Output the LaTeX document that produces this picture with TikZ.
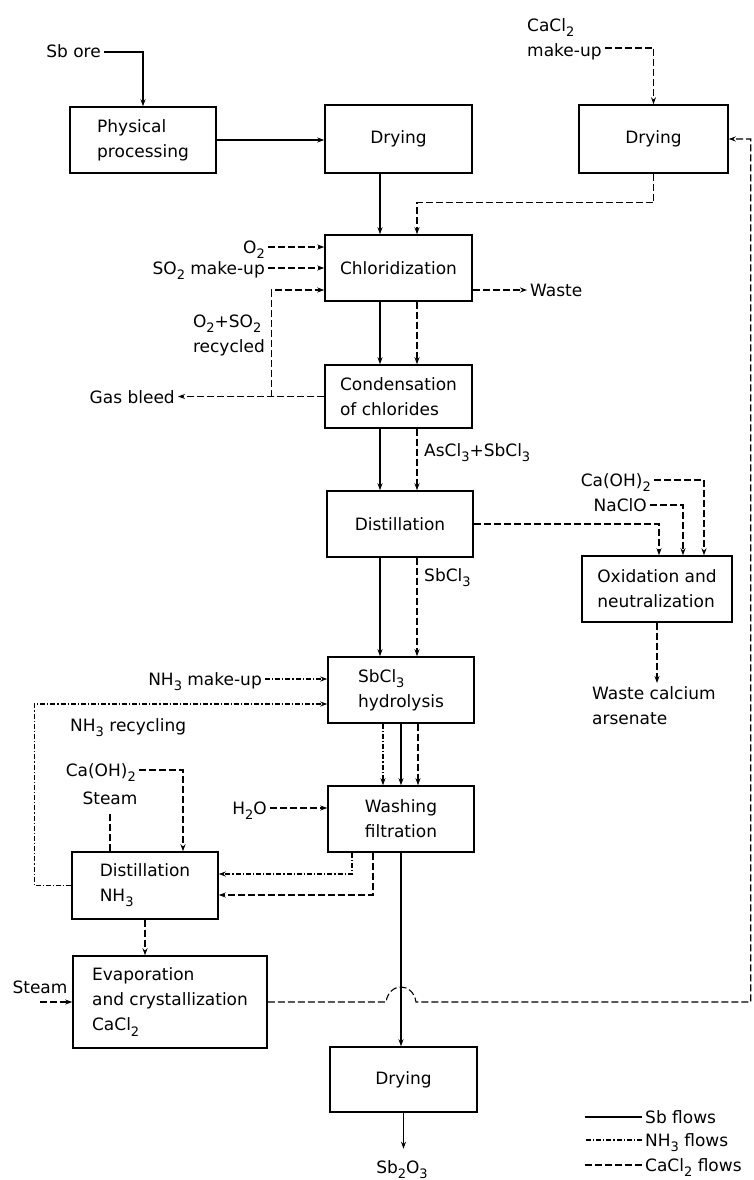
\documentclass[tikz,border=0pt]{standalone}
\usepackage{fontspec}
\setmainfont{DejaVu Sans}
\usetikzlibrary{arrows.meta,calc}
\newcommand\sbx[1]{\raisebox{-0.3em}{\fontsize{13}{13}\selectfont #1}}
\begin{document}
\begin{tikzpicture}[x=1pt,y=-1pt,
  font=\fontsize{17}{25}\selectfont,
  box/.style={draw,line width=1.5pt,minimum width=146pt,minimum height=66pt,align=left,inner sep=2pt},
  lbl/.style={inner sep=3pt},
  lbl1/.style={inner sep=3pt,text height=13pt,text depth=1pt},
  flow/.style={line width=1.1pt},
  sbf/.style={flow},
  nhf/.style={flow,dash pattern=on 5pt off 2pt on 1.2pt off 2pt},
  caf/.style={flow,dash pattern=on 7pt off 3pt},
  arr/.style={-{Stealth[length=7pt,width=5pt]}},
]
\useasboundingbox (0,0) rectangle (753,1180);

% boxes
\node[box] (pp) at (143,140) {Physical\\processing};
\node[box,minimum width=147pt,minimum height=68pt] (dry1) at (398.5,139) {Drying};
\node[box,minimum width=149pt,minimum height=68pt] (dry2) at (653.5,139) {Drying};
\node[box,minimum width=147pt] (chl) at (398.5,268) {Chloridization};
\node[box,minimum width=147pt,minimum height=63pt] (con) at (398.5,396.5) {Condensation\\of chlorides};
\node[box] (dis) at (400,524) {Distillation};
\node[box,minimum width=150pt] (oxi) at (657,589) {Oxidation and\\neutralization};
\node[box] (hyd) at (401,690) {SbCl\sbx{3}\\hydrolysis};
\node[box] (wash) at (401,819) {Washing\\filtration};
\node[box,minimum height=67pt] (dnh) at (145,885.5) {Distillation\\NH\sbx{3}};
\node[box,minimum width=194pt,minimum height=92pt] (eva) at (170,1002) {Evaporation\\and crystallization\\CaCl\sbx{2}};
\node[box,minimum width=147pt,minimum height=65pt] (dry3) at (403.5,1079.5) {Drying};

% column coordinates
\coordinate (cS) at (380,0);
\coordinate (cD) at (417,0);

% top
\node[lbl1,anchor=east] (sbore) at (104,52) {Sb ore};
\draw[sbf,arr] (sbore.east) -| (pp.north);
\draw[sbf,arr] (pp.east) -- (pp.east -| dry1.west);

\node[lbl,align=left,anchor=west] (cmk) at (524,39) {CaCl\sbx{2}\\make-up};
\coordinate (cmkend) at (605,48);
\draw[caf,arr] (cmkend) -| (dry2.north);

\draw[sbf,arr] (dry1.south -| cS) -- (chl.north -| cS);
\draw[caf,arr] (dry2.south) -- ++(0,29) -| (chl.north -| cD);

% chloridization inputs
\node[lbl1,anchor=east] (o2) at (268,247) {O\sbx{2}};
\node[lbl1,anchor=east] (so2) at (268,268) {SO\sbx{2} make-up};
\draw[caf,arr] (o2.east) -- (o2.east -| chl.west);
\draw[caf,arr] (so2.east) -- (so2.east -| chl.west);
\node[lbl1,anchor=west] (waste) at (527,290) {Waste};
\draw[caf,arr] (waste.west -| chl.east) -- (waste.west);

% recycle and gas bleed
\node[lbl1,anchor=east] (gas) at (178,397) {Gas bleed};
\draw[caf,arr] (con.west) -- (con.west -| gas.east);
\draw[caf,arr] ($(con.west)+(-53,0)$) |- ($(chl.west)+(0,22)$);
\node[lbl,align=left,anchor=east] (rec) at (268,335) {O\sbx{2}+SO\sbx{2}\\recycled};

\draw[sbf,arr] (chl.south -| cS) -- (con.north -| cS);
\draw[caf,arr] (chl.south -| cD) -- (con.north -| cD);
\draw[sbf,arr] (con.south -| cS) -- (dis.north -| cS);
\draw[caf,arr] (con.south -| cD) -- (dis.north -| cD);
\node[lbl1,anchor=west] (ascl) at (421,450) {AsCl\sbx{3}+SbCl\sbx{3}};

% oxidation branch
\draw[caf,arr] (dis.east) -| ($(oxi.north)+(2,0)$);
\node[lbl1,anchor=east] (caoh1) at (654,480) {Ca(OH)\sbx{2}};
\draw[caf,arr] (caoh1.east) -| ($(oxi.north)+(47,0)$);
\node[lbl1,anchor=east] (naclo) at (650,505) {NaClO};
\draw[caf,arr] (naclo.east) -| ($(oxi.north)+(26,0)$);
\node[lbl,align=left,anchor=north west] (wca) at (589,683) {Waste calcium\\arsenate};
\draw[caf,arr] (oxi.south) -- (oxi.south |- wca.north);

\draw[sbf,arr] (dis.south -| cS) -- (hyd.north -| cS);
\draw[caf,arr] (dis.south -| cD) -- (hyd.north -| cD);
\node[lbl1,anchor=west] (sbcl) at (421,575) {SbCl\sbx{3}};

% hydrolysis
\node[lbl1,anchor=east] (nh3mk) at (265,679) {NH\sbx{3} make-up};
\draw[nhf,arr] (nh3mk.east) -- (nh3mk.east -| hyd.west);
\draw[nhf,arr] (dnh.west) -- ++(-37,0) |- ($(hyd.west)+(0,14)$);
\node[lbl1,anchor=west] (nh3rec) at (67,725) {NH\sbx{3} recycling};

\draw[nhf,arr] ($(hyd.south)+(-18,0)$) -- ($(wash.north)+(-18,0)$);
\draw[sbf,arr] (hyd.south) -- (wash.north);
\draw[caf,arr] ($(hyd.south)+(17,0)$) -- ($(wash.north)+(17,0)$);

% distillation NH3 inputs
\node[lbl1,anchor=east] (caoh2) at (139,770) {Ca(OH)\sbx{2}};
\draw[caf,arr] (caoh2.east) -| ($(dnh.north)+(38,0)$);
\node[lbl1] (steam1) at (110,798) {Steam};
\draw[caf,shorten <=6pt] (steam1.south) -- (steam1.south |- dnh.north);

\node[lbl1,anchor=east] (h2o) at (270,808) {H\sbx{2}O};
\draw[caf,arr] (h2o.east) -- (h2o.east -| wash.west);

\draw[nhf,arr] ($(wash.south)+(-49,0)$) |- ($(dnh.east)+(0,-11.5)$);
\draw[caf,arr] ($(wash.south)+(-28,0)$) |- ($(dnh.east)+(0,9.5)$);
\draw[sbf,arr] (wash.south) -- (wash.south |- dry3.north);

\draw[caf,arr] (dnh.south) -- (dnh.south |- eva.north);
\node[lbl1] (steam2) at (40,987) {Steam};
\draw[caf,arr] (steam2.south |- eva.west) -- (eva.west);

% CaCl2 return with hop
\coordinate (ret) at ($(dry2.east)+(22,0)$);
\coordinate (h1) at ($(eva.east -| wash.south)+(-15,0)$);
\coordinate (h2) at ($(eva.east -| wash.south)+(15,0)$);
\draw[caf,arr] (eva.east) -- (h1) .. controls ($(h1)+(3,-20)$) and ($(h2)+(-3,-20)$) .. (h2) -- (eva.east -| ret) -- (ret) -- (dry2.east);

% product
\draw[sbf,arr] (dry3.south) -- ++(0,36) coordinate (prod);
\node[lbl1] (sb2o3) at (402,1167) {Sb\sbx{2}O\sbx{3}};

% legend
\node[lbl1,anchor=west] (lg1) at (642,1117) {Sb flows};
\node[lbl1,anchor=west] (lg2) at (642,1140) {NH\sbx{3} flows};
\node[lbl1,anchor=west] (lg3) at (642,1165) {CaCl\sbx{2} flows};
\draw[sbf] (lg1.west) -- ++(-57,0);
\draw[nhf] (lg2.west) -- ++(-57,0);
\draw[caf] (lg3.west) -- ++(-57,0);
\end{tikzpicture}
\end{document}
